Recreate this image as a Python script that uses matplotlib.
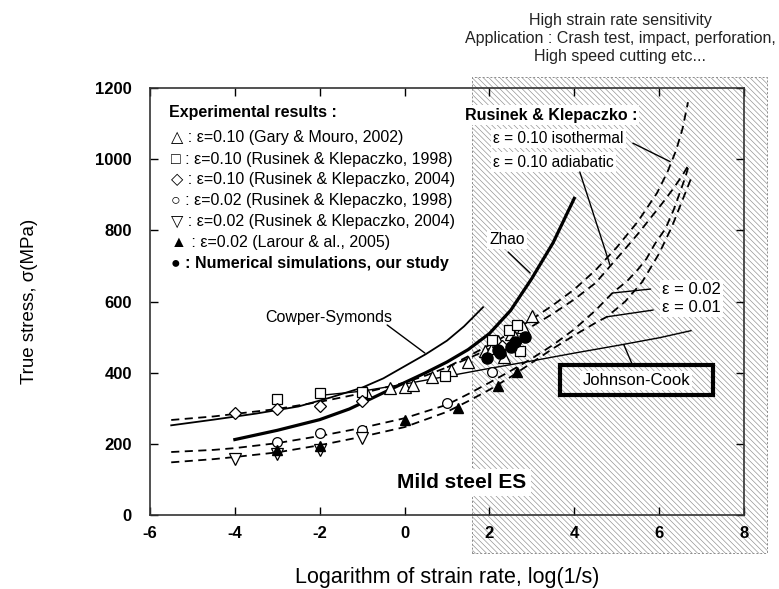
import matplotlib
matplotlib.use("Agg")
import matplotlib.pyplot as plt
from matplotlib.patches import Rectangle

plt.rcParams['font.family'] = ['Liberation Sans', 'DejaVu Sans']
plt.rcParams['hatch.linewidth'] = 0.45
plt.rcParams['axes.unicode_minus'] = False

# --- constitutive model curves (log strain rate, stress in MPa) ---
cs_x = [-5.5, -4.5, -3.5, -2.5, -1.75, -1.0, -0.5, 0.0, 0.5, 1.0, 1.4, 1.85]
cs_y = [252, 268, 285, 305, 330, 358, 384, 418, 452, 490, 530, 584]

zhao_x = [-4.0, -3.0, -2.0, -1.3, -1.0, 0.0, 0.5, 1.0, 1.5, 2.0, 2.5, 3.0, 3.5, 4.0]
zhao_y = [212, 238, 268, 298, 315, 372, 400, 430, 465, 510, 575, 665, 765, 890]

jc_x = [-2.0, -1.0, 0.0, 1.0, 2.0, 3.0, 4.0, 5.0, 6.0, 6.75]
jc_y = [336, 348, 368, 390, 412, 433, 455, 476, 498, 518]

# Rusinek & Klepaczko model
rk_iso_x = [-5.5, -4.5, -4.0, -3.0, -2.0, -1.0, 0.0, 0.5, 1.0, 1.5, 2.0, 2.5, 3.0,
            3.5, 4.0, 4.5, 5.0, 5.5, 5.95, 6.2, 6.4, 6.55, 6.68]
rk_iso_y = [267, 277, 284, 298, 318, 342, 372, 392, 415, 446, 478, 512, 550,
            590, 634, 688, 752, 825, 905, 965, 1025, 1085, 1160]

rk_adia_x = [1.0, 1.5, 2.0, 2.5, 3.0, 3.5, 4.0, 4.5, 4.85, 5.2, 5.5, 5.8, 6.1,
             6.35, 6.55, 6.7]
rk_adia_y = [415, 440, 467, 497, 530, 566, 606, 652, 700, 748, 790, 835, 880,
             920, 955, 985]

rk_002_x = [-5.5, -4.5, -4.0, -3.0, -2.0, -1.0, 0.0, 1.0, 1.5, 2.0, 2.5, 3.0,
            3.5, 4.0, 4.5, 4.9, 5.25, 5.5, 5.7, 5.9, 6.15, 6.35, 6.5, 6.62, 6.68]
rk_002_y = [177, 183, 188, 202, 222, 245, 272, 310, 340, 372, 405, 440,
            478, 522, 575, 624, 658, 690, 720, 762, 805, 860, 910, 950, 975]

rk_001_x = [-5.5, -4.5, -4.0, -3.0, -2.0, -1.0, 0.0, 1.0, 1.5, 2.0, 2.5, 3.0,
            3.5, 4.0, 4.5, 4.77, 5.2, 5.6, 6.0, 6.3, 6.5, 6.65, 6.75]
rk_001_y = [148, 157, 163, 176, 196, 220, 247, 290, 320, 352, 388, 428,
            468, 505, 540, 557, 600, 655, 735, 810, 870, 915, 945]

# --- experimental results ---
gary_x = [-0.9, -0.35, 0.0, 0.2, 0.65, 1.1, 1.5, 1.9, 2.05, 2.2, 2.35, 2.5, 2.6, 2.8, 3.0]
gary_y = [345, 358, 360, 365, 388, 408, 430, 462, 470, 490, 445, 510, 500, 528, 560]

rk98_10_x = [-3.0, -2.0, -1.0, 0.95, 2.05, 2.45, 2.65, 2.72]
rk98_10_y = [325, 342, 346, 390, 492, 520, 533, 461]

rk04_10_x = [-4.0, -3.0, -2.0, -1.0, 2.3]
rk04_10_y = [286, 298, 306, 320, 475]

rk98_02_x = [-3.0, -2.0, -1.0, 1.0, 2.05]
rk98_02_y = [205, 230, 240, 315, 402]

rk04_02_x = [-4.0, -3.0, -2.0, -1.0]
rk04_02_y = [158, 171, 182, 215]

larour_x = [-3.0, -2.0, 0.0, 1.25, 2.2, 2.65]
larour_y = [183, 193, 268, 300, 362, 402]

# --- numerical simulations ---
sim_x = [1.95, 2.2, 2.25, 2.5, 2.6, 2.85]
sim_y = [441, 465, 455, 472, 485, 500]

legend_rows = [
    "\u25b3 : \u03b5=0.10 (Gary & Mouro, 2002)",
    "\u25a1 : \u03b5=0.10 (Rusinek & Klepaczko, 1998)",
    "\u25c7 : \u03b5=0.10 (Rusinek & Klepaczko, 2004)",
    "\u25cb : \u03b5=0.02 (Rusinek & Klepaczko, 1998)",
    "\u25bd : \u03b5=0.02 (Rusinek & Klepaczko, 2004)",
    "\u25b2 : \u03b5=0.02 (Larour & al., 2005)",
]
legend_y = [1060, 1000, 942, 885, 826, 767]

fig = plt.figure(figsize=(7.79, 5.89), dpi=100)
ax = fig.add_axes([150 / 779, 1 - 515 / 589, 594 / 779, 427 / 589])

# high strain rate zone
ax.add_patch(Rectangle((1.59, -107), 8.54 - 1.59, 1230 + 107, fill=False,
                       hatch='\\' * 6, edgecolor='#8c8c8c', lw=0.7,
                       linestyle=(0, (2, 2)), clip_on=False, zorder=0))

dash = (0, (4.5, 3))
ax.plot(cs_x, cs_y, color='black', lw=1.3, zorder=3)
ax.plot(zhao_x, zhao_y, color='black', lw=2.3, zorder=3)
ax.plot(jc_x, jc_y, color='black', lw=1.0, zorder=3)
for xs, ys in [(rk_iso_x, rk_iso_y), (rk_adia_x, rk_adia_y),
               (rk_002_x, rk_002_y), (rk_001_x, rk_001_y)]:
    ax.plot(xs, ys, color='black', lw=1.3, linestyle=dash, zorder=3)

open_kw = dict(linestyle='none', mfc='white', mec='black', mew=0.9, zorder=4)
ax.plot(gary_x, gary_y, marker='^', ms=8, **open_kw)
ax.plot(rk98_10_x, rk98_10_y, marker='s', ms=7.5, **open_kw)
ax.plot(rk04_10_x, rk04_10_y, marker='D', ms=6, **open_kw)
ax.plot(rk98_02_x, rk98_02_y, marker='o', ms=7, **open_kw)
ax.plot(rk04_02_x, rk04_02_y, marker='v', ms=8, **open_kw)
ax.plot(larour_x, larour_y, marker='^', ms=7.5, linestyle='none',
        color='black', zorder=4)
ax.plot(sim_x, sim_y, marker='o', ms=8, linestyle='none', color='black', zorder=5)

ax.set_xlim(-6, 8)
ax.set_ylim(0, 1200)
ax.set_xticks(range(-6, 9, 2))
ax.set_yticks(range(0, 1201, 200))
ax.tick_params(direction='in', length=6, width=1, top=True, right=True,
               labelsize=12)
ax.tick_params(axis='x', pad=8)
ax.tick_params(axis='y', pad=13)
for lab in ax.get_xticklabels() + ax.get_yticklabels():
    lab.set_fontweight('bold')
for sp in ax.spines.values():
    sp.set_linewidth(1.2)
    sp.set_color('#333333')

# legend block for experiments
ax.text(-5.55, 1130, "Experimental results :", fontsize=11.5, fontweight='bold',
        va='center', ha='left')
for row, yy in zip(legend_rows, legend_y):
    ax.text(-5.5, yy, row, fontsize=11.5, va='center', ha='left')
ax.text(-5.5, 708, "\u25cf : Numerical simulations, our study", fontsize=11.5,
        fontweight='bold', va='center', ha='left')

white = dict(facecolor='white', edgecolor='none', pad=1.5)
ax.text(1.42, 1124, "Rusinek & Klepaczko :", fontsize=11.5, fontweight='bold',
        va='center', ha='left', bbox=white, zorder=6)
ax.text(2.09, 1057, "\u03b5 = 0.10 isothermal", fontsize=11.2, va='center',
        ha='left', bbox=white, zorder=6)
ax.text(2.09, 992, "\u03b5 = 0.10 adiabatic", fontsize=11.2, va='center',
        ha='left', bbox=white, zorder=6)
ax.text(1.99, 773, "Zhao", fontsize=11.2, va='center', ha='left', bbox=white,
        zorder=6)
ax.text(6.07, 635, "\u03b5 = 0.02", fontsize=12, va='center', ha='left',
        bbox=white, zorder=6)
ax.text(6.07, 582, "\u03b5 = 0.01", fontsize=12, va='center', ha='left',
        bbox=white, zorder=6)
ax.text(-3.29, 556, "Cowper-Symonds", fontsize=11.5, va='center', ha='left')
ax.text(1.35, 92, "Mild steel ES", fontsize=15, fontweight='bold',
        va='center', ha='center', bbox=dict(facecolor='white', edgecolor='none',
                                            pad=3), zorder=6)

# Johnson-Cook framed label
ax.add_patch(Rectangle((3.66, 337), 3.61, 85, fill=False, lw=3,
                       edgecolor='black', zorder=6))
ax.text(5.46, 379, "Johnson-Cook", fontsize=12, va='center', ha='center',
        bbox=white, zorder=6)

# leader lines
leaders = [((5.38, 1045), (6.26, 993)),
           ((4.13, 964), (4.84, 703)),
           ((2.44, 739), (2.96, 680)),
           ((5.8, 635), (4.91, 624)),
           ((5.86, 576), (4.77, 557)),
           ((-0.41, 534), (0.48, 455)),
           ((5.17, 478), (5.37, 422))]
for start, tip in leaders:
    ax.annotate("", xy=tip, xytext=start,
                arrowprops=dict(arrowstyle='-', lw=1.0, color='black',
                                shrinkA=0, shrinkB=0), zorder=6)

fig.text(620 / 779, 1 - 39 / 589,
         "High strain rate sensitivity\n"
         "Application : Crash test, impact, perforation,\n"
         "High speed cutting etc...",
         fontsize=11.5, ha='center', va='center', linespacing=1.25, color='#222222')
fig.text(30 / 779, 1 - 301 / 589, "True stress, \u03c3(MPa)", fontsize=13.5,
         rotation=90, ha='center', va='center')
fig.text(447 / 779, 1 - 577 / 589, "Logarithm of strain rate, log(1/s)",
         fontsize=15.5, ha='center', va='center')

fig.savefig("out.png", dpi=100)
